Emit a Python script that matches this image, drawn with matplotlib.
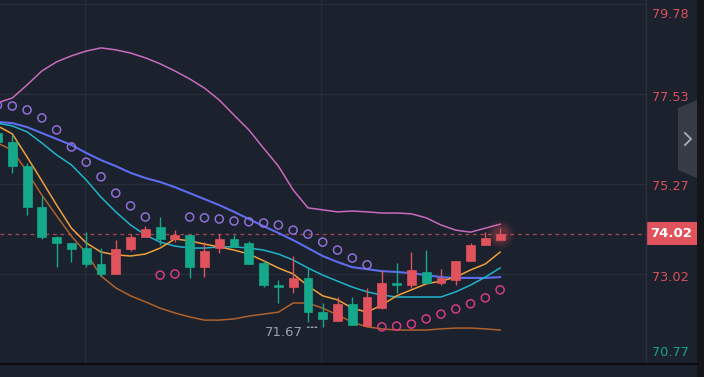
import matplotlib
matplotlib.use("Agg")
import matplotlib.pyplot as plt
from matplotlib.patches import Rectangle, Polygon
from matplotlib.lines import Line2D

# Datos de velas (cierre en rojo = sube, verde = baja)
aperturas = [76.55, 76.33, 75.72, 74.69, 73.94, 73.79, 73.66, 73.26, 73.01, 73.64,
             73.94, 74.19, 73.89, 73.99, 73.18, 73.66, 73.89, 73.79, 73.29, 72.73,
             72.68, 72.91, 72.05, 71.83, 72.26, 71.70, 72.15, 72.78, 72.73, 73.06,
             72.78, 72.86, 73.34, 73.74, 73.86]
cierres = [76.33, 75.72, 74.69, 73.94, 73.79, 73.64, 73.26, 73.01, 73.64, 73.94,
           74.14, 73.89, 73.99, 73.18, 73.59, 73.89, 73.69, 73.26, 72.73, 72.68,
           72.91, 72.05, 71.88, 72.26, 71.73, 72.43, 72.78, 72.73, 73.11, 72.78,
           72.91, 73.34, 73.74, 73.91, 74.02]
maximos = [76.60, 76.50, 75.80, 74.97, 73.96, 73.79, 74.06, 73.66, 73.86, 74.01,
           74.21, 74.44, 74.11, 74.01, 73.81, 74.01, 73.99, 73.84, 73.36, 72.86,
           73.46, 73.18, 72.28, 72.43, 72.43, 72.66, 73.11, 73.28, 73.56, 73.61,
           73.13, 73.34, 73.79, 74.06, 74.16]
minimos = [76.22, 75.55, 74.49, 73.89, 73.18, 73.31, 73.18, 72.96, 73.01, 73.59,
           73.94, 73.74, 73.81, 72.91, 72.93, 73.54, 73.69, 73.26, 72.68, 72.28,
           72.53, 71.80, 71.67, 71.83, 71.73, 71.70, 72.13, 72.53, 72.66, 72.78,
           72.73, 72.73, 73.34, 73.74, 73.86]

# Bandas de Bollinger
banda_sup = [77.31, 77.43, 77.76, 78.11, 78.34, 78.49, 78.61, 78.69, 78.64, 78.56,
             78.44, 78.29, 78.11, 77.91, 77.68, 77.38, 77.00, 76.63, 76.17, 75.72,
             75.12, 74.67, 74.62, 74.57, 74.59, 74.57, 74.54, 74.54, 74.52, 74.42,
             74.24, 74.11, 74.06, 74.16, 74.26]
banda_inf = [76.30, 76.12, 75.57, 74.99, 74.47, 73.96, 73.54, 72.96, 72.66, 72.46,
             72.31, 72.15, 72.03, 71.93, 71.85, 71.85, 71.88, 71.95, 72.00, 72.05,
             72.28, 72.28, 72.15, 71.98, 71.80, 71.68, 71.63, 71.60, 71.60, 71.60,
             71.63, 71.65, 71.65, 71.63, 71.60]

# Medias moviles
ma_azul = [76.83, 76.80, 76.70, 76.55, 76.40, 76.25, 76.05, 75.87, 75.72, 75.55,
           75.42, 75.32, 75.19, 75.04, 74.89, 74.74, 74.57, 74.39, 74.21, 74.04,
           73.86, 73.66, 73.46, 73.31, 73.18, 73.13, 73.08, 73.06, 73.03, 72.98,
           72.93, 72.91, 72.91, 72.91, 72.93]
ma_cian = [76.80, 76.73, 76.58, 76.30, 76.00, 75.75, 75.37, 74.94, 74.57, 74.24,
           73.99, 73.81, 73.71, 73.66, 73.66, 73.69, 73.69, 73.66, 73.61, 73.51,
           73.36, 73.16, 72.98, 72.83, 72.68, 72.56, 72.48, 72.43, 72.43, 72.43,
           72.43, 72.56, 72.73, 72.93, 73.16]
ma_naranja = [76.73, 76.53, 75.95, 75.35, 74.74, 74.16, 73.79, 73.56, 73.49, 73.46,
              73.51, 73.66, 73.89, 73.84, 73.76, 73.69, 73.61, 73.51, 73.34, 73.16,
              73.01, 72.71, 72.46, 72.36, 72.15, 72.05, 72.23, 72.46, 72.61, 72.76,
              72.83, 72.93, 73.11, 73.26, 73.56]

# SAR parabolico
sar = [77.25, 77.23, 77.13, 76.93, 76.63, 76.20, 75.82, 75.45, 75.04, 74.72,
       74.44, 72.98, 73.01, 74.44, 74.42, 74.39, 74.34, 74.32, 74.29, 74.24,
       74.11, 74.01, 73.81, 73.61, 73.41, 73.24, 71.68, 71.70, 71.75, 71.88,
       72.00, 72.13, 72.26, 72.41, 72.61]

niveles_eje = [79.78, 77.53, 75.27, 73.02, 70.77]
colores_eje = ["#d9505a", "#d9505a", "#d9505a", "#d9505a", "#17a68a"]
# desplazamiento hacia abajo (px) de cada etiqueta respecto a su nivel
desfase_eje = [10.5, 3, 3, 4, -11]
grid_vertical = [5.95, 21.9]
minimo_texto = "71.67"
idx_minimo = 22

fondo = "#1b212d"
rojo = "#e0525c"
verde = "#15a88b"

W, H = 704, 377
fig = plt.figure(figsize=(W / 100, H / 100), dpi=100, facecolor=fondo)
ax = fig.add_axes([0, 13 / H, 646 / W, 364 / H])
ax.set_facecolor(fondo)
ax.set_xlim(0.168, 43.87)
ax.set_ylim(70.747, 79.893)
for s in ax.spines.values():
    s.set_visible(False)
ax.set_xticks([])
ax.set_yticks([])

# Rejilla
for nivel in niveles_eje[:4]:
    ax.axhline(nivel, color="#262d3a", lw=1.0, zorder=0)
for xv in grid_vertical:
    ax.axvline(xv, color="#262d3a", lw=1.0, zorder=0)

x = list(range(len(cierres)))

# Lineas
ax.plot(x, banda_sup, color="#c86bbd", lw=1.1, zorder=2)
ax.plot(x, banda_inf, color="#b0622c", lw=1.1, zorder=2)
ax.plot(x, ma_azul, color="#5d6df0", lw=1.5, zorder=3)
ax.plot(x, ma_cian, color="#20b4cc", lw=1.1, zorder=3)
ax.plot(x, ma_naranja, color="#f0a03a", lw=1.1, zorder=3)

# Velas
for i in x:
    o, c = aperturas[i], cierres[i]
    col = rojo if c >= o else verde
    ax.vlines(i, minimos[i], maximos[i], color=col, lw=1.0, zorder=4)
    alto = max(abs(c - o), 0.04)
    ax.bar(i, alto, bottom=min(o, c), width=0.6, color=col, edgecolor=col,
           lw=0.5, zorder=5)

# SAR
col_sar = ["#8f6fd6" if sar[i] > maximos[i] else "#d63a86" for i in x]
ax.scatter(x, sar, s=34, facecolors="none", edgecolors=col_sar, linewidths=1.1,
           zorder=6)

# Brillo de la ultima vela
for s, a in [(420, 0.08), (260, 0.12), (140, 0.16)]:
    ax.scatter([x[-1]], [cierres[-1]], s=s, color=rojo, alpha=a, lw=0, zorder=4)

# Linea de precio actual
ax.axhline(cierres[-1], color=rojo, lw=0.9, dashes=(3, 3), alpha=0.75, zorder=1)

# Etiqueta de minimo
ax.annotate(minimo_texto, xy=(idx_minimo - 0.3, minimos[idx_minimo]),
            xytext=(-15, 1), textcoords="offset pixels", ha="right", va="top",
            fontsize=9.5, color="#9aa0ab",
            arrowprops=dict(arrowstyle="-", linestyle=(0, (1, 1.5)),
                            color="#9aa0ab", lw=1.1, relpos=(1, 0.92),
                            shrinkA=1, shrinkB=0))

# Eje derecho
fig.add_artist(Line2D([646 / W, 646 / W], [13 / H, 1], color="#2a3140", lw=1.0))
for nivel, col, d in zip(niveles_eje, colores_eje, desfase_eje):
    ax.annotate(f"{nivel:.2f}", xy=(1, nivel), xycoords=("axes fraction", "data"),
                xytext=(6, -d), textcoords="offset pixels", ha="left",
                va="center", fontsize=9.3, color=col)

# Caja del precio actual
fig.canvas.draw()
_, yp = ax.transData.transform((0, cierres[-1]))
fig.add_artist(Rectangle((646 / W, (yp - 11.5) / H), 51 / W, 23 / H,
                         transform=fig.transFigure, color=rojo, lw=0))
fig.text(671.5 / W, yp / H, f"{cierres[-1]:.2f}", ha="center", va="center",
         fontsize=9.5, fontweight="bold", color="white")

# Pestaña lateral
fig.add_artist(Polygon([(678 / W, 1 - 108 / H), (697 / W, 1 - 100 / H),
                        (697 / W, 1 - 178 / H), (678 / W, 1 - 170 / H)],
                       closed=True, transform=fig.transFigure, color="#363b46",
                       lw=0))
fig.add_artist(Line2D([685 / W, 691 / W, 685 / W],
                      [1 - 133 / H, 1 - 139 / H, 1 - 145 / H],
                      color="#a4a8b0", lw=1.4))

# Bordes
fig.add_artist(Rectangle((697 / W, 0), 7 / W, 1, transform=fig.transFigure,
                         color="#131519", lw=0))
fig.add_artist(Line2D([0, 697 / W], [13 / H, 13 / H], color="#0a0c10", lw=1.6))

fig.savefig("out.png", dpi=100, facecolor=fondo)
